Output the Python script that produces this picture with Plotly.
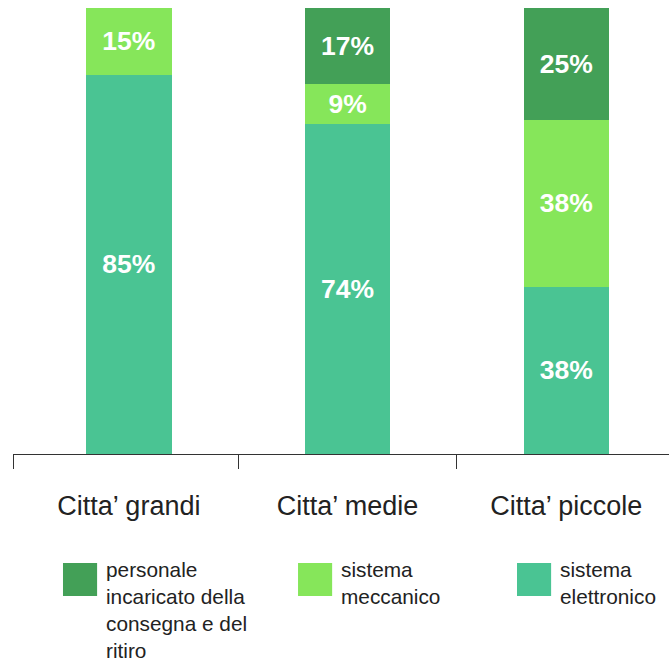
import plotly.graph_objects as go

categories = ["Citta’ grandi", "Citta’ medie", "Citta’ piccole"]
series_names = ["sistema elettronico", "sistema meccanico", "personale incaricato della consegna e del ritiro"]
legend_labels = ["sistema<br>elettronico", "sistema<br>meccanico", "personale<br>incaricato della<br>consegna e del<br>ritiro"]
elettronico = [85, 74, 37.5]
meccanico = [15, 9, 37.5]
personale = [0, 17, 25]
elettronico_txt = ["85%", "74%", "38%"]
meccanico_txt = ["15%", "9%", "38%"]
personale_txt = ["", "17%", "25%"]
colors = ["#4AC493", "#86E65A", "#43A057"]

values = [elettronico, meccanico, personale]
texts = [elettronico_txt, meccanico_txt, personale_txt]

fig = go.Figure()
for name, vals, txt, col in zip(series_names, values, texts, colors):
    fig.add_trace(go.Bar(
        x=list(range(len(categories))), y=vals, name=name, text=txt,
        textposition="inside", insidetextanchor="middle",
        textfont=dict(family="Arial, Liberation Sans", size=26.5, color="white", weight="bold"),
        marker=dict(color=col, line=dict(width=0)),
        width=0.39, showlegend=False, hoverinfo="skip",
    ))

fig.update_layout(
    barmode="stack",
    width=669, height=662,
    margin=dict(l=13, r=0, t=8, b=208),
    paper_bgcolor="white", plot_bgcolor="white",
    font=dict(family="Arial, Liberation Sans", color="#222222"),
    xaxis=dict(
        tickmode="array", tickvals=list(range(len(categories))), ticktext=categories,
        range=[-0.53, 2.47], showgrid=False, zeroline=False,
        showline=True, linecolor="#333333", linewidth=1,
        ticks="", tickfont=dict(size=27, color="#222222"), ticklabelstandoff=28,
    ),
    yaxis=dict(range=[0, 100], visible=False, fixedrange=True),
)

# Tick marks at category boundaries via overlay axis
fig.update_layout(xaxis2=dict(
    overlaying="x", matches="x", tickmode="array",
    tickvals=[-0.529, 0.5, 1.5], ticktext=["", "", ""],
    ticks="outside", ticklen=14, tickcolor="#333333", showgrid=False,
    zeroline=False, showline=False, anchor="y", side="bottom",
))
fig.add_trace(go.Scatter(x=[0], y=[0], xaxis="x2", mode="markers",
                         marker=dict(opacity=0), showlegend=False, hoverinfo="skip"))

# Legend drawn manually (large swatches), ordered as in reference
legend_order = [2, 1, 0]
swatch_x = [0.0762, 0.4345, 0.7683]
swatch_w = 0.052
text_dx = 0.0625
for pos, idx in enumerate(legend_order):
    x0 = swatch_x[pos]
    fig.add_shape(type="rect", xref="paper", yref="paper",
                  x0=x0, x1=x0 + swatch_w, y0=-0.3184, y1=-0.2444,
                  fillcolor=colors[idx], line=dict(width=0))
    fig.add_annotation(xref="paper", yref="paper", x=x0 + text_dx, y=-0.229,
                       xanchor="left", yanchor="top", align="left", showarrow=False,
                       text=legend_labels[idx],
                       font=dict(size=20.8, color="#222222", family="Arial, Liberation Sans"))

fig.write_html("out.html")
